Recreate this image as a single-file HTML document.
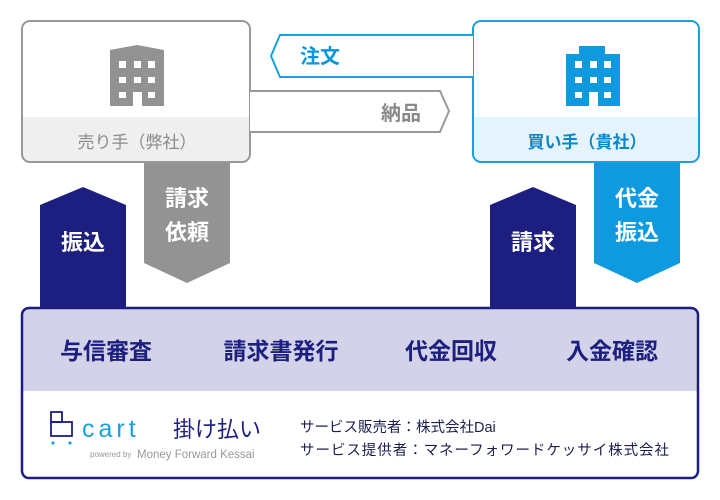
<!DOCTYPE html>
<html><head><meta charset="utf-8"><style>
html,body{margin:0;padding:0;background:#fff;width:720px;height:500px;overflow:hidden}
svg text{font-family:"Liberation Sans","Noto Sans CJK JP",sans-serif}
.b{font-weight:bold}
</style></head><body>
<svg width="720" height="500" viewBox="0 0 720 500" xmlns="http://www.w3.org/2000/svg">
<!-- seller box -->
<rect x="22" y="21" width="228" height="141" rx="8" fill="#fff"/>
<path d="M23 117 H249 V154 a7 7 0 0 1 -7 7 H30 a7 7 0 0 1 -7 -7 Z" fill="#efefef"/>
<rect x="22" y="21" width="228" height="141" rx="8" fill="none" stroke="#999" stroke-width="2"/>
<path d="M110 50 L137 45 L164 50 V106 H110 Z" fill="#929292"/>
<g fill="#fff">
<rect x="119" y="61" width="7" height="7"/><rect x="134" y="61" width="7" height="7"/><rect x="148" y="61" width="7" height="7"/>
<rect x="119" y="77" width="7" height="6"/><rect x="134" y="77" width="7" height="6"/><rect x="148" y="77" width="7" height="6"/>
<rect x="119" y="92" width="7" height="6"/><rect x="148" y="92" width="7" height="6"/>
<rect x="133" y="92" width="9" height="14"/>
</g>
<text x="137" y="148" font-size="17" fill="#8a8a8a" text-anchor="middle">売り手（弊社）</text>
<!-- buyer box -->
<rect x="473" y="21" width="226" height="141" rx="8" fill="#fff"/>
<path d="M473 117 H699 V154 a7 7 0 0 1 -7 7 H480 a7 7 0 0 1 -7 -7 Z" fill="#e5f4fc"/>
<rect x="473" y="21" width="226" height="141" rx="8" fill="none" stroke="#1aa0e0" stroke-width="2"/>
<path d="M579 46 H605 V54 H620 V106 H566 V54 H579 Z" fill="#0f9ae0"/>
<g fill="#fff">
<rect x="575" y="61" width="7" height="7"/><rect x="590" y="61" width="7" height="7"/><rect x="604" y="61" width="7" height="7"/>
<rect x="575" y="77" width="7" height="6"/><rect x="590" y="77" width="7" height="6"/><rect x="604" y="77" width="7" height="6"/>
<rect x="575" y="92" width="7" height="6"/><rect x="604" y="92" width="7" height="6"/>
<rect x="589" y="92" width="9" height="14"/>
</g>
<text x="587" y="148" font-size="17" fill="#0a86cc" text-anchor="middle" class="b">買い手（貴社）</text>
<!-- 注文 -->
<path d="M473 35 H280 L271 56 L280 77 H473" fill="#fff" stroke="#1aa0e0" stroke-width="2"/>
<text x="300" y="63" font-size="20" fill="#0a96dc" class="b">注文</text>
<!-- 納品 -->
<path d="M250 91 H440 L449 111 L440 132 H250" fill="#fff" stroke="#999" stroke-width="2"/>
<text x="421" y="120" font-size="20" fill="#8a8a8a" text-anchor="end" class="b">納品</text>
<!-- arrows -->
<path d="M40 205 L83 187 L126 205 V310 H40 Z" fill="#1c1e80"/>
<text x="83" y="250" font-size="22" fill="#fff" text-anchor="middle" class="b">振込</text>
<path d="M144 163 H230 V263 L187 283 L144 263 Z" fill="#939393"/>
<text x="187" y="206" font-size="22" fill="#fff" text-anchor="middle" class="b">請求</text>
<text x="187" y="240" font-size="22" fill="#fff" text-anchor="middle" class="b">依頼</text>
<path d="M490 205 L533 187 L576 205 V310 H490 Z" fill="#1c1e80"/>
<text x="533" y="250" font-size="22" fill="#fff" text-anchor="middle" class="b">請求</text>
<path d="M594 163 H680 V263 L637 283 L594 263 Z" fill="#0f9ae0"/>
<text x="637" y="206" font-size="22" fill="#fff" text-anchor="middle" class="b">代金</text>
<text x="637" y="240" font-size="22" fill="#fff" text-anchor="middle" class="b">振込</text>
<!-- bottom box -->
<path d="M22 391 V314 a6 6 0 0 1 6 -6 H692 a6 6 0 0 1 6 6 V391 Z" fill="#d2d3e8"/>
<rect x="22" y="308" width="676" height="170" rx="7" fill="none" stroke="#1c1e80" stroke-width="2.5"/>
<g font-size="23" fill="#1c1e80" text-anchor="middle" class="b">
<text x="106" y="359">与信審査</text>
<text x="281" y="359">請求書発行</text>
<text x="451" y="359">代金回収</text>
<text x="612" y="359">入金確認</text>
</g>
<!-- logo -->
<g fill="none" stroke="#1c1e80" stroke-width="1.8">
<rect x="51" y="412" width="11" height="10"/><rect x="51" y="422" width="21" height="14"/>
</g>
<circle cx="53" cy="443" r="1.6" fill="#1aa0e0"/><circle cx="70" cy="443" r="1.6" fill="#1aa0e0"/>
<text x="82" y="437" font-size="25" fill="#1aa0e0" letter-spacing="4" font-family="Liberation Sans, sans-serif">cart</text>
<text x="173" y="437" font-size="22" fill="#1c1e80">掛け払い</text>
<text x="90" y="457" font-size="8" fill="#999">powered by</text>
<text x="137" y="458" font-size="11.5" fill="#999">Money Forward Kessai</text>
<g font-size="14.5" fill="#1c1e50">
<text x="300" y="432">サービス販売者：株式会社Dai</text>
<text x="300" y="455" textLength="369">サービス提供者：マネーフォワードケッサイ株式会社</text>
</g>
</svg>
</body></html>
